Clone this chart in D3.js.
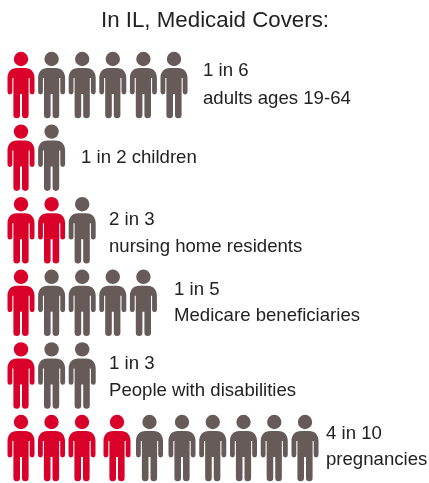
<!DOCTYPE html>
<html>
<head>
<meta charset="utf-8">
<script src="https://cdnjs.cloudflare.com/ajax/libs/d3/7.8.5/d3.min.js"></script>
<style>
html, body { margin: 0; padding: 0; background: #fff; }
text { font-family: "Liberation Sans", Arial, sans-serif; fill: #222; }
</style>
</head>
<body>
<div id="chart"></div>
<script>
var titleText = "In IL, Medicaid Covers:";
var covered = [1, 1, 2, 1, 1, 4];
var totals = [6, 2, 3, 5, 3, 10];
var lineOne = ["1 in 6", "1 in 2 children", "2 in 3", "1 in 5", "1 in 3", "4 in 10"];
var lineTwo = ["adults ages 19-64", "", "nursing home residents", "Medicare beneficiaries", "People with disabilities", "pregnancies"];

var svgWidth = 429;
var svgHeight = 483;
var red = "#d9002a";
var grey = "#665b58";

// row tops and label spots
var rowScale = d3.scaleLinear().domain([0, 5]).range([52, 415]);
var xScale = d3.scaleLinear().domain([0, 1]).range([21, 51.6]);
// last row is spaced unevenly in the original
var lastRowScale = d3.scaleLinear().domain([0, 2, 3, 5, 9]).range([21, 82, 117, 182, 305]);
var labelX = [203, 81, 109, 174, 109, 326];
var labelY1 = [24, 38, 28, 25, 27, 24];
var labelY2 = [52, 0, 55, 51, 54, 50];

// person icon, x centred on 0, y from top of head
var personPath = "M0,16 H4 C10,16 13.5,20 13.5,26 V40 A2.4,2.4 0 0 1 8.7,40 V26 H7.6 V63 A3,3 0 0 1 1,63 V42 H-1 V63 A3,3 0 0 1 -7.6,63 V26 H-8.7 V40 A2.4,2.4 0 0 1 -13.5,40 V26 C-13.5,20 -10,16 -4,16 Z";

var svg = d3.select("#chart")
    .append("svg")
    .attr("width", svgWidth)
    .attr("height", svgHeight)
    .style("display", "block")
    .style("filter", "blur(0.35px)");

svg.append("text")
    .attr("x", 215)
    .attr("y", 27)
    .attr("text-anchor", "middle")
    .attr("font-size", "22.3px")
    .text(titleText);

var rows = svg.selectAll("g.row")
    .data(totals)
    .enter()
    .append("g")
    .attr("class", "row")
    .attr("transform", (d, i) => `translate(0, ${rowScale(i)})`);

rows.each(function(total, r) {
    var scale = r === 5 ? lastRowScale : xScale;
    var people = d3.select(this).selectAll("g.person")
        .data(d3.range(total))
        .enter()
        .append("g")
        .attr("class", "person")
        .attr("transform", d => `translate(${scale(d)}, 0)`)
        .attr("fill", d => d < covered[r] ? red : grey);

    people.append("circle")
        .attr("cy", 7)
        .attr("r", 7.2);

    people.append("path")
        .attr("d", personPath);

    d3.select(this).append("text")
        .attr("x", labelX[r])
        .attr("y", labelY1[r])
        .attr("font-size", "18.6px")
        .text(lineOne[r]);

    if (lineTwo[r] !== "") {
        d3.select(this).append("text")
            .attr("x", labelX[r])
            .attr("y", labelY2[r])
            .attr("font-size", "18.6px")
            .text(lineTwo[r]);
    }
});
</script>
</body>
</html>
